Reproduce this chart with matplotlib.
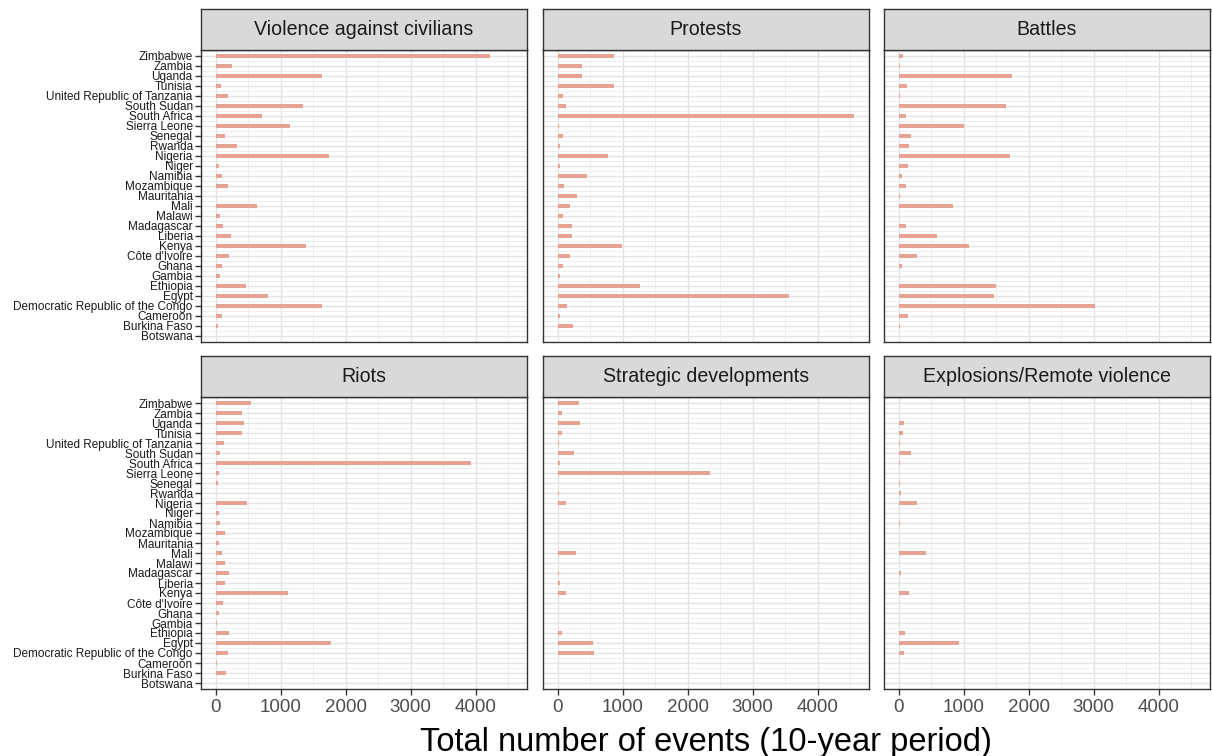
import numpy as np
import matplotlib
matplotlib.use('Agg')
from matplotlib import pyplot as plt

plt.rcParams['font.family'] = ['Liberation Sans', 'DejaVu Sans']

# countries, top to bottom as listed on the y axis
countries = ['Zimbabwe', 'Zambia', 'Uganda', 'Tunisia', 'United Republic of Tanzania',
             'South Sudan', 'South Africa', 'Sierra Leone', 'Senegal', 'Rwanda',
             'Nigeria', 'Niger', 'Namibia', 'Mozambique', 'Mauritania', 'Mali',
             'Malawi', 'Madagascar', 'Liberia', 'Kenya', "Côte d'Ivoire", 'Ghana',
             'Gambia', 'Ethiopia', 'Egypt', 'Democratic Republic of the Congo',
             'Cameroon', 'Burkina Faso', 'Botswana']

event_types = ['Violence against civilians', 'Protests', 'Battles',
               'Riots', 'Strategic developments', 'Explosions/Remote violence']

violence = [4230, 250, 1640, 85, 185, 1340, 715, 1135, 135, 320,
            1750, 50, 95, 190, 10, 635, 70, 105, 240, 1395,
            200, 90, 60, 460, 810, 1640, 95, 30, 5]
protests = [870, 370, 365, 870, 75, 130, 4565, 15, 75, 35,
            780, 35, 445, 100, 290, 190, 75, 220, 220, 995,
            180, 75, 35, 1265, 3555, 140, 35, 230, 0]
battles = [65, 25, 1750, 130, 25, 1650, 115, 1010, 195, 160,
           1705, 145, 50, 115, 15, 840, 5, 115, 590, 1085,
           285, 50, 10, 1500, 1460, 3025, 145, 25, 0]
riots = [545, 410, 440, 405, 120, 70, 3935, 50, 30, 5,
         480, 55, 60, 135, 50, 95, 135, 200, 135, 1110,
         105, 50, 20, 210, 1770, 180, 20, 160, 0]
strategic = [320, 65, 345, 65, 15, 245, 35, 2345, 5, 15,
             130, 0, 0, 10, 0, 280, 0, 15, 35, 120,
             10, 0, 5, 65, 535, 550, 5, 5, 0]
explosions = [10, 0, 75, 65, 20, 195, 25, 10, 20, 40,
              285, 10, 15, 10, 0, 425, 0, 30, 0, 160,
              10, 0, 0, 90, 920, 80, 0, 0, 0]

series = [violence, protests, battles, riots, strategic, explosions]

W, H = 1212, 756
fig = plt.figure(figsize=(W / 100, H / 100), dpi=100)

# panel boxes in pixels: (left, top, width, height)
lefts = [201, 543, 884]
tops = [50, 397]
pw, ph = 326, 292
sh = 41

ypos = np.arange(len(countries))[::-1]
xmax = max(max(s) for s in series)
xlim = (-0.05 * xmax, 1.05 * xmax)

def box(l, t, w, h):
    return [l / W, 1 - (t + h) / H, w / W, h / H]

for k, (name, vals) in enumerate(zip(event_types, series)):
    r, c = divmod(k, 3)
    ax = fig.add_axes(box(lefts[c], tops[r], pw, ph))
    ax.barh(ypos, vals, height=0.34, color='#e6a393', zorder=2)
    ax.set_xlim(*xlim)
    ax.set_ylim(-0.6, len(countries) - 0.4)
    ax.set_xticks([0, 1000, 2000, 3000, 4000])
    ax.set_xticks(np.arange(500, 5000, 1000), minor=True)
    ax.set_yticks(ypos)
    ax.set_yticks(ypos[:-1] - 0.5, minor=True)
    ax.grid(which='major', color='#e3e3e3', lw=1.0, zorder=0)
    ax.grid(which='minor', color='#ececec', lw=0.6, zorder=0)
    for sp in ax.spines.values():
        sp.set_color('#333333')
        sp.set_linewidth(1.0)
    ax.tick_params(which='minor', length=0)
    ax.tick_params(axis='both', colors='#333333', width=1.0, length=4)
    if c == 0:
        ax.set_yticklabels(countries, fontsize=8.5, color='#1a1a1a')
        ax.tick_params(axis='y', pad=2)
    else:
        ax.tick_params(axis='y', length=0, labelleft=False)
    if r == 1:
        ax.tick_params(axis='x', labelsize=13.5, labelcolor='#4d4d4d', pad=3)
    else:
        ax.tick_params(axis='x', length=0, labelbottom=False)

    # facet strip
    st = fig.add_axes(box(lefts[c], tops[r] - sh, pw, sh))
    st.set_facecolor('#d9d9d9')
    st.set_xticks([])
    st.set_yticks([])
    for sp in st.spines.values():
        sp.set_color('#333333')
        sp.set_linewidth(1.0)
    st.text(0.5, 0.5, name, ha='center', va='center', fontsize=14.1,
            color='#1a1a1a', transform=st.transAxes)

fig.text((lefts[0] + lefts[2] + pw) / 2 / W, 1 - 742 / H,
         'Total number of events (10-year period)', ha='center', va='center',
         fontsize=23.5, color='black')

fig.savefig('out.png', dpi=100, facecolor='white')
